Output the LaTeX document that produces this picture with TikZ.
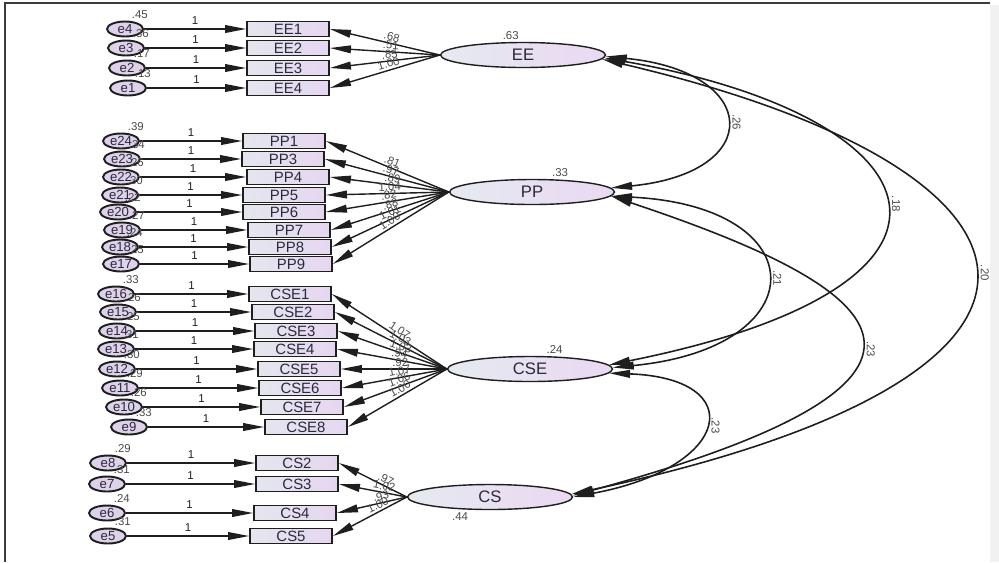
\documentclass[tikz,border=0pt]{standalone}
\usepackage{fontspec}
\setmainfont{Liberation Sans}
\usetikzlibrary{arrows.meta,positioning,shapes.geometric}
\definecolor{SEMInk}{HTML}{1E1E1E}
\definecolor{SEMText}{HTML}{2A2A3A}
\definecolor{SEMMuted}{HTML}{4A4A4A}
\definecolor{SEMLatL}{HTML}{E6EAF0}
\definecolor{SEMLatR}{HTML}{EAD8F2}
\definecolor{SEMObsL}{HTML}{E4E6EE}
\definecolor{SEMObsR}{HTML}{E6D6F0}
\definecolor{SEMErr}{HTML}{DDD2EA}
\definecolor{SEMFrame}{HTML}{3C3C3C}
\definecolor{SEMStrip}{HTML}{F1F1F1}
\tikzset{
  semtip/.tip={Triangle[length=12pt,width=4.4pt]},
  onearrow/.style={-semtip,SEMInk,line width=.8pt},
  loadarrow/.style={-semtip,SEMInk,line width=.8pt},
  covarrow/.style={semtip-semtip,SEMInk,line width=.9pt},
  latent/.style={ellipse,draw=SEMInk,line width=.8pt,left color=SEMLatL,right color=SEMLatR,
                 minimum width=3.3cm,minimum height=.5cm,inner sep=0pt,text=SEMText,
                 font=\fontsize{9.5}{11}\selectfont},
  obs/.style={draw=SEMInk,line width=1pt,left color=SEMObsL,right color=SEMObsR,
              minimum width=1.64cm,minimum height=.3cm,inner sep=0pt,text=SEMText,
              font=\fontsize{8.5}{9}\selectfont},
  errc/.style={ellipse,draw=SEMInk,line width=1.1pt,fill=SEMErr,minimum width=.72cm,
               minimum height=.3cm,inner sep=0pt,text=SEMText,font=\fontsize{7.5}{8}\selectfont},
  varlab/.style={text=SEMMuted,inner sep=1pt,font=\fontsize{6.5}{7}\selectfont},
  onelab/.style={text=SEMInk,inner sep=2pt,font=\fontsize{6.5}{7}\selectfont},
  covlab/.style={text=SEMMuted,inner sep=4pt,anchor=south,rotate=-90,font=\fontsize{6.5}{7}\selectfont},
  frameline/.style={SEMFrame,line width=1.1pt},
}
\begin{document}
\begin{tikzpicture}[x=.02cm,y=-.02cm]
  \useasboundingbox (0,0) rectangle (999,562);
  \fill[SEMStrip] (990,5) rectangle (999,562);
  \draw[frameline] (5,562) -- (5,3) -- (990,3);

  \node[latent,label={[varlab,xshift=-7pt]above:.63}] (EE) at (523,55) {EE};
  \node[latent,label={[varlab,xshift=16pt]above:.33}] (PP) at (532,192) {PP};
  \node[latent,label={[varlab,xshift=14pt]above:.24}] (CSE) at (530,369) {CSE};
  \node[latent,label={[varlab,xshift=-17pt]below:.44}] (CS) at (490,497) {CS};

  \foreach \item/\y/\bx/\err/\ex/\ev/\lam in {EE1/29/288/e4/125/.45/.68,EE2/48/288/e3/126/.36/.51,
      EE3/68/288/e2/127/.17/.85,EE4/88/288/e1/128/.13/1.00}{
    \node[obs] (\item) at (\bx,\y) {\item};
    \node[errc,label={[varlab]60:\ev}] (\err) at (\ex,\y) {\err};
    \draw[onearrow] (\err) -- (\item) node[onelab,midway,above] {1};
    \draw[loadarrow] (EE.west) -- (\item.east) node[varlab,pos=.45,sloped,above] {\lam};
  }

  \foreach \item/\y/\bx/\err/\ex/\ev/\lam in {PP1/141/284/e24/121/.39/.81,PP3/159/283/e23/122/.34/.97,
      PP4/177/288/e22/121/.26/.89,PP5/195/284/e21/120/.30/1.04,PP6/212/284/e20/118/.22/.82,
      PP7/230/289/e19/122/.27/.88,PP8/247/290/e18/120/.24/1.01,PP9/264/291/e17/121/.25/1.00}{
    \node[obs] (\item) at (\bx,\y) {\item};
    \node[errc,label={[varlab]60:\ev}] (\err) at (\ex,\y) {\err};
    \draw[onearrow] (\err) -- (\item) node[onelab,midway,above] {1};
    \draw[loadarrow] (PP.west) -- (\item.east) node[varlab,pos=.48,sloped,above] {\lam};
  }

  \foreach \item/\y/\bx/\err/\ex/\ev/\lam in {CSE1/294/290/e16/116/.33/1.07,CSE2/312/293/e15/118/.26/1.03,
      CSE3/331/296/e14/117/.25/1.03,CSE4/349/295/e13/116/.31/.94,CSE5/369/299/e12/117/.30/.92,
      CSE6/388/300/e11/120/.29/1.07,CSE7/407/302/e10/124/.26/1.06,CSE8/427/306/e9/129/.33/1.00}{
    \node[obs] (\item) at (\bx,\y) {\item};
    \node[errc,label={[varlab]60:\ev}] (\err) at (\ex,\y) {\err};
    \draw[onearrow] (\err) -- (\item) node[onelab,midway,above] {1};
    \draw[loadarrow] (CSE.west) -- (\item.east) node[varlab,pos=.44,sloped,above] {\lam};
  }

  \foreach \item/\y/\bx/\err/\ex/\ev/\lam in {CS2/463/297/e8/108/.29/.97,CS3/484/297/e7/107/.31/1.02,
      CS4/513/295/e6/107/.24/.93,CS5/536/291/e5/108/.31/1.00}{
    \node[obs] (\item) at (\bx,\y) {\item};
    \node[errc,label={[varlab]60:\ev}] (\err) at (\ex,\y) {\err};
    \draw[onearrow] (\err) -- (\item) node[onelab,midway,above] {1};
    \draw[loadarrow] (CS.west) -- (\item.east) node[varlab,pos=.35,sloped,above] {\lam};
  }

  \draw[covarrow] (EE.-1) .. controls +(155,15) and +(155,-15) .. (PP.3) node[covlab,pos=.5] {.26};
  \draw[covarrow] (EE.-2) .. controls +(340,60) and +(400,-80) .. (CSE.3) node[covlab,pos=.5] {.18};
  \draw[covarrow] (EE.-3) .. controls +(470,110) and +(560,-120) .. (CS.2) node[covlab,pos=.5] {.20};
  \draw[covarrow] (PP.-3) .. controls +(205,10) and +(205,-20) .. (CSE.1) node[covlab,pos=.5] {.21};
  \draw[covarrow] (PP.-3) .. controls +(270,90) and +(440,-120) .. (CS.1) node[covlab,pos=.55] {.23};
  \draw[covarrow] (CSE.-3) .. controls +(140,5) and +(160,-30) .. (CS.0) node[covlab,pos=.5] {.23};
\end{tikzpicture}
\end{document}
